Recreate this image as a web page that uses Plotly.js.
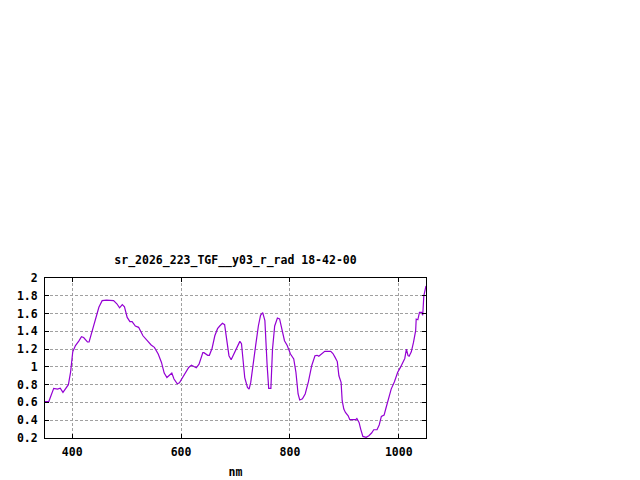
<!DOCTYPE html>
<html>
<head>
<meta charset="utf-8">
<script src="https://cdn.plot.ly/plotly-3.0.1.min.js"></script>
<style>
    html, body { margin: 0; padding: 0; background: #fff; }
    #chart { width: 640px; height: 480px; }
</style>
</head>
<body>
<div id="chart"></div>
<script>
// Spectrum (wavelength in nm, radiance)
const wavelength = [
    350, 357, 366, 373, 378, 383, 393, 397, 401, 406, 412, 417, 421, 428, 431, 436,
    443, 449, 455, 463, 476, 482, 487, 492, 496, 501, 506, 510, 516, 522, 530, 539,
    545, 551, 558, 564, 569, 574, 579, 583, 587, 593, 597, 602, 608, 614, 619, 623,
    628, 633, 636, 640, 642, 649, 652, 657, 662, 667, 671, 676, 680, 683, 688, 692,
    698, 705, 708, 711, 714, 717, 722, 725, 728, 732, 737, 742, 746, 750, 754, 758,
    761, 765, 768, 772, 777, 781, 785, 790, 795, 801, 807, 811, 815, 818, 823, 828,
    834, 840, 846, 850, 853, 861, 864, 875, 879, 883, 887, 890, 894, 896, 899, 902,
    907, 910, 916, 921, 923, 927, 930, 934, 940, 945, 950, 954, 960, 964, 968, 973,
    976, 980, 986, 992, 998, 1003, 1007, 1011, 1014, 1017, 1019, 1023, 1027, 1031, 1032, 1035,
    1038, 1042, 1044, 1046, 1050,
];
const radiance = [
    0.61, 0.61, 0.758, 0.75, 0.76, 0.713, 0.80, 0.94, 1.17, 1.24, 1.29, 1.34, 1.33, 1.28, 1.28, 1.39,
    1.545, 1.67, 1.745, 1.75, 1.745, 1.71, 1.665, 1.70, 1.675, 1.557, 1.51, 1.51, 1.46, 1.445, 1.35, 1.287,
    1.246, 1.22, 1.145, 1.05, 0.93, 0.88, 0.91, 0.93, 0.864, 0.81, 0.82, 0.87, 0.945, 0.994, 1.02, 1.01,
    0.99, 1.03, 1.095, 1.16, 1.16, 1.13, 1.13, 1.21, 1.35, 1.43, 1.46, 1.49, 1.475, 1.33, 1.126, 1.08,
    1.16, 1.257, 1.287, 1.26, 1.07, 0.88, 0.77, 0.75, 0.825, 1.03, 1.24, 1.46, 1.58, 1.61, 1.52, 1.03,
    0.758, 0.758, 1.20, 1.46, 1.55, 1.54, 1.433, 1.295, 1.24, 1.145, 1.09, 0.94, 0.695, 0.628, 0.64, 0.695,
    0.833, 1.013, 1.126, 1.13, 1.12, 1.156, 1.175, 1.175, 1.15, 1.107, 1.06, 0.90, 0.826, 0.62, 0.526, 0.488,
    0.45, 0.406, 0.406, 0.406, 0.42, 0.375, 0.30, 0.218, 0.207, 0.226, 0.256, 0.293, 0.293, 0.346, 0.443, 0.458,
    0.526, 0.62, 0.75, 0.833, 0.94, 0.994, 1.04, 1.095, 1.20, 1.126, 1.12, 1.17, 1.275, 1.407, 1.538, 1.53,
    1.613, 1.613, 1.58, 1.80, 1.91,
];
const xTicks = [400, 600, 800, 1000];
const yTicks = [0.2, 0.4, 0.6, 0.8, 1, 1.2, 1.4, 1.6, 1.8, 2];
const yTickText = ['0.2', '0.4', '0.6', '0.8', '1', '1.2', '1.4', '1.6', '1.8', '2'];

const FONT = { family: '"DejaVu Sans Mono", "Liberation Mono", monospace', size: 11.5, color: '#000' };
const BOLD = { ...FONT, weight: 'bold' };

const axisBase = {
    showline: true,
    linecolor: '#000',
    linewidth: 1,
    mirror: 'ticks',
    ticks: 'inside',
    ticklen: 4,
    tickcolor: '#000',
    showgrid: true,
    gridcolor: '#a0a0a0',
    griddash: '3px,2px',
    gridwidth: 1,
    zeroline: false,
    tickfont: BOLD,
};

const trace = {
    x: wavelength,
    y: radiance,
    type: 'scatter',
    mode: 'lines',
    line: { color: '#9400d3', width: 1.2 },
    hoverinfo: 'x+y',
};

const layout = {
    width: 640,
    height: 480,
    margin: { l: 45, r: 214, t: 278, b: 42 },
    paper_bgcolor: '#fff',
    plot_bgcolor: '#fff',
    showlegend: false,
    font: FONT,
    title: {
        text: 'sr_2026_223_TGF__y03_r_rad 18-42-00',
        font: BOLD,
        xref: 'paper',
        x: 0.5,
        xanchor: 'center',
        yref: 'container',
        y: 1 - 260 / 480,
        yanchor: 'middle',
    },
    xaxis: {
        ...axisBase,
        range: [350, 1050],
        tickvals: xTicks,
        ticktext: xTicks.map(String),
        ticklabelstandoff: 3,
        title: { text: 'nm', font: BOLD, standoff: 10 },
    },
    yaxis: {
        ...axisBase,
        range: [0.2, 2],
        tickvals: yTicks,
        ticktext: yTickText,
        ticklabelstandoff: 4,
    },
};

Plotly.newPlot('chart', [trace], layout, { staticPlot: true, displayModeBar: false });
</script>
</body>
</html>
